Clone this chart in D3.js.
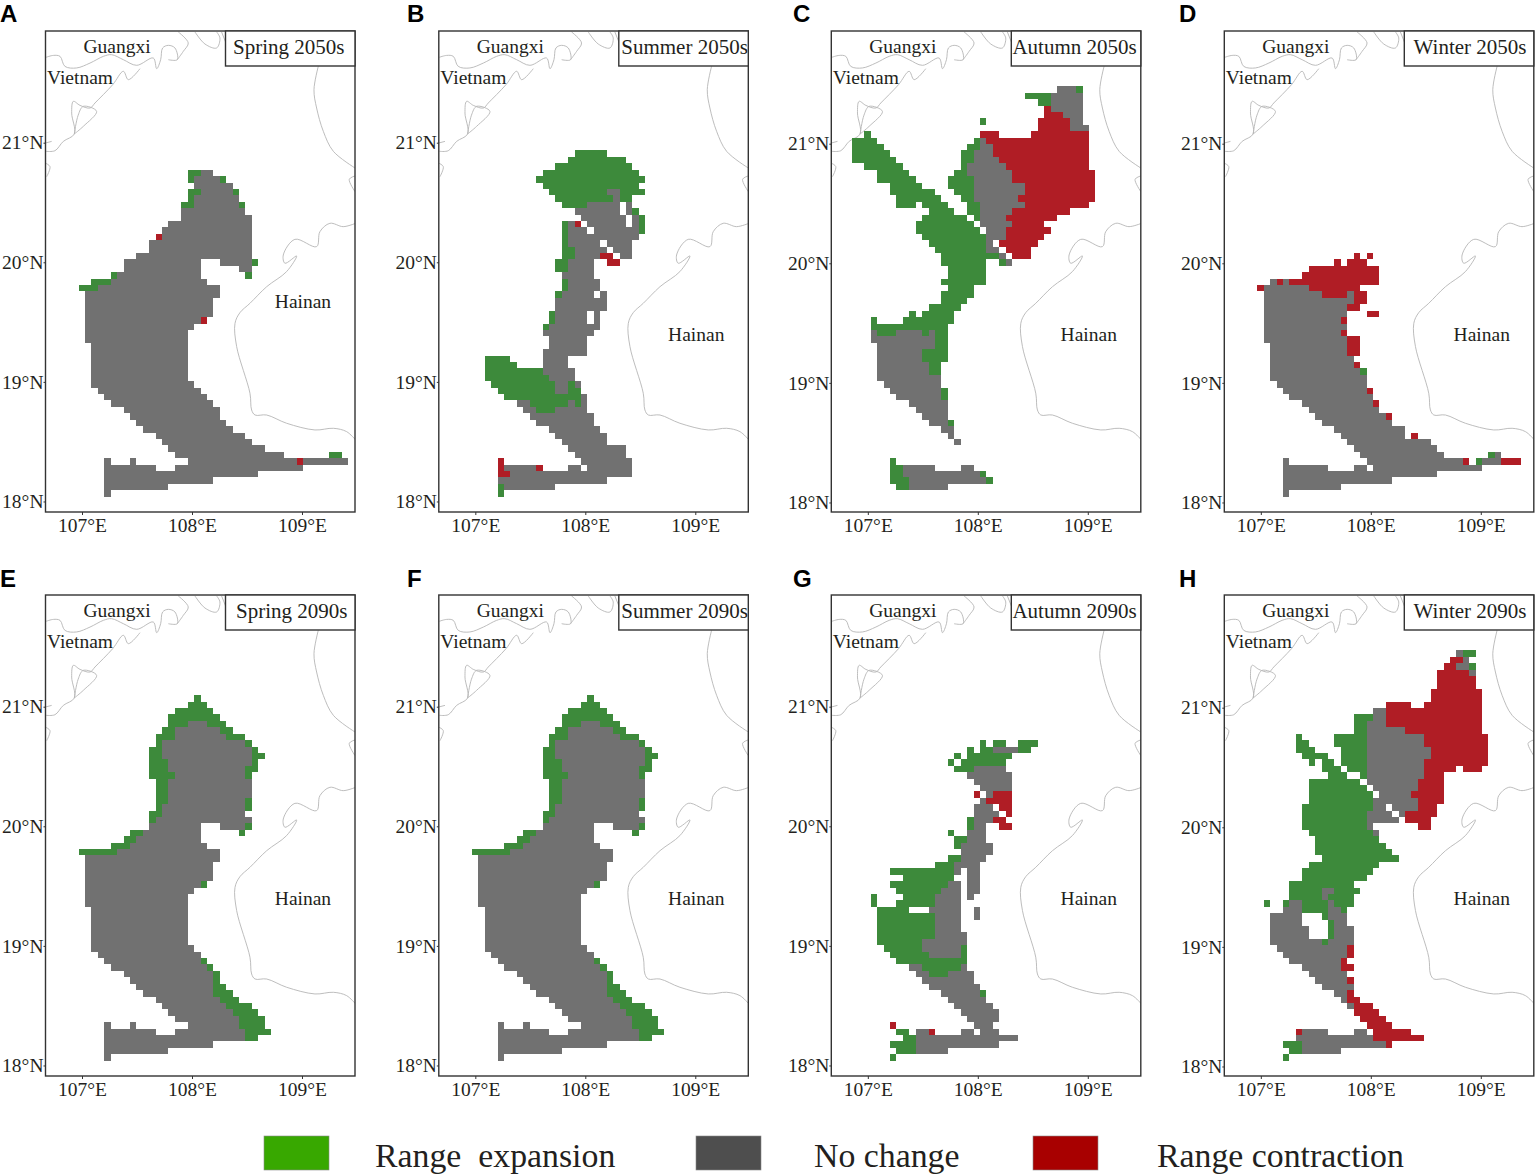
<!DOCTYPE html>
<html>
<head>
<meta charset="utf-8">
<script src="https://cdn.jsdelivr.net/npm/d3@7"></script>
<style>
  html, body { margin: 0; padding: 0; background: #fff; }
  text { font-family: "Liberation Serif", serif; fill: #231f20; }
  .letter { font-family: "Liberation Sans", sans-serif; font-weight: bold; font-size: 24px; fill: #000; }
</style>
</head>
<body>
<div id="chart"></div>
<script>
// each row: [grid row, status, first col, last col, status, first col, last col, ...]
// G = range expansion, N = no change, R = range contraction
const spring2050 = [
  [0,"G",16,17,"N",18,19],[1,"G",16,16,"N",17,20,"G",21,21],[2,"N",17,22],
  [3,"G",16,17,"N",18,22,"G",23,23],[4,"G",16,16,"N",17,23],[5,"G",15,16,"N",17,23,"G",24,24],
  [6,"N",15,24],[7,"N",15,25],[8,"N",13,25],[9,"N",12,25],[10,"R",11,11,"N",12,25],
  [11,"N",10,25],[12,"N",10,25],[13,"N",8,25],[14,"N",6,17,"N",21,25,"G",26,26],
  [15,"N",6,17,"N",24,25],[16,"G",4,4,"N",5,17,"G",25,25],[17,"G",1,3,"N",4,18],
  [18,"G",-1,1,"N",2,20],[19,"N",0,20],[20,"N",0,19],[21,"N",0,19],[22,"N",0,19],
  [23,"N",0,17,"R",18,18],[24,"N",0,16],[25,"N",0,15],[26,"N",0,15],[27,"N",1,15],
  [28,"N",1,15],[29,"N",1,15],[30,"N",1,15],[31,"N",1,15],[32,"N",1,15],[33,"N",1,16],
  [34,"N",2,17],[35,"N",3,18],[36,"N",4,19],[37,"N",6,20],[38,"N",7,20],[39,"N",8,21],
  [40,"N",9,22],[41,"N",11,24],[42,"N",12,25],[43,"N",13,27],[44,"N",14,30,"G",38,39],
  [45,"N",3,3,"N",7,7,"N",16,32,"R",33,33,"N",34,40],[46,"N",3,10,"N",14,33],
  [47,"N",3,26],[48,"N",3,19],[49,"N",3,12],[50,"N",3,3]
];

const summer2050 = [
  [-3,"G",15,19],[-2,"G",14,22],[-1,"G",12,23],[0,"G",10,24],[1,"G",9,25],[2,"G",10,24],
  [3,"G",11,19,"N",20,21,"G",22,25],[4,"G",12,20,"N",21,21,"G",22,23],
  [5,"G",13,16,"N",17,21,"N",23,23],[6,"N",15,21,"N",23,23,"G",24,24],
  [7,"N",16,22,"N",24,24,"G",25,25],[8,"G",13,13,"N",14,14,"R",15,15,"N",17,22,"N",24,24,"G",25,25],
  [9,"G",13,13,"N",14,16,"N",18,24,"G",25,25],[10,"G",13,13,"N",14,24],
  [11,"G",13,13,"N",14,18,"N",20,23],[12,"G",13,14,"N",15,19,"N",21,23],
  [13,"G",13,14,"N",15,18,"R",19,20,"N",22,23],[14,"G",12,13,"N",14,17,"R",20,21],
  [15,"G",12,13,"N",14,17],[16,"N",13,17],[17,"G",13,13,"N",14,18],[18,"G",13,13,"N",14,18],
  [19,"G",12,12,"N",13,17,"N",19,19],[20,"N",12,19],[21,"N",12,19],
  [22,"G",11,11,"N",12,16,"N",18,18],[23,"G",11,11,"N",12,16,"N",18,18],[24,"G",10,10,"N",11,18],
  [25,"N",10,17],[26,"N",11,16],[27,"N",11,16],[28,"N",10,16],[29,"G",1,4,"N",10,13],
  [30,"G",1,5,"N",10,13],[31,"G",1,9,"N",10,14],[32,"G",1,10,"N",11,14],
  [33,"G",2,11,"N",12,13,"G",14,14,"N",15,15],[34,"G",3,11,"N",12,13,"G",14,15],
  [35,"G",4,15,"N",16,16],[36,"N",6,7,"G",8,13,"N",14,14,"G",15,15,"N",16,16],
  [37,"N",7,8,"G",9,11,"N",12,16],[38,"N",8,17],[39,"N",9,17],[40,"N",11,18],[41,"N",12,19],
  [42,"N",13,19],[43,"N",14,22],[44,"N",15,22],[45,"R",3,3,"N",16,23],
  [46,"R",3,3,"N",4,8,"R",9,9,"N",14,15,"N",17,23],[47,"R",3,4,"N",5,23],[48,"N",3,19],
  [49,"G",3,3,"N",4,11],[50,"G",3,3]
];

const autumn2050 = [
  [-13,"N",29,31,"G",32,32],[-12,"G",24,27,"N",28,32],[-11,"G",26,27,"N",28,32],[-10,"R",27,27,"N",28,32],
  [-9,"R",27,29,"N",30,32],[-8,"G",17,17,"R",26,30,"N",31,32],[-7,"R",26,30,"N",31,33],
  [-6,"G",-1,-1,"R",17,19,"R",25,33],[-5,"G",-3,0,"G",16,16,"N",17,17,"R",18,33],
  [-4,"G",-3,1,"G",15,16,"N",17,18,"R",19,33],[-3,"G",-3,2,"G",14,15,"N",16,18,"R",19,33],
  [-2,"G",-3,3,"G",14,15,"N",16,19,"R",20,33],[-1,"G",-1,4,"G",14,14,"N",15,20,"R",21,33],
  [0,"G",1,5,"G",13,14,"N",15,21,"R",22,34],[1,"G",1,6,"G",12,15,"N",16,21,"R",22,34],
  [2,"G",3,7,"G",12,15,"N",16,23,"R",24,34],[3,"G",3,9,"G",13,15,"N",16,23,"R",24,34],
  [4,"G",4,10,"G",14,15,"N",16,22,"R",23,34],[5,"G",4,6,"G",8,11,"G",15,16,"N",17,23,"R",24,33],
  [6,"G",9,12,"G",15,16,"N",17,21,"R",22,30],[7,"G",8,14,"G",16,16,"N",17,20,"R",21,28],
  [8,"G",7,15,"N",17,21,"R",22,26],[9,"G",7,16,"N",18,20,"R",21,27],[10,"G",8,17,"N",18,20,"R",21,26],
  [11,"G",9,17,"N",18,18,"R",20,25],[12,"G",10,17,"N",18,19,"R",21,24],
  [13,"G",11,19,"N",20,20,"R",22,24],[14,"G",11,17,"G",20,20,"N",21,21],[15,"G",12,17],[16,"G",12,17],
  [17,"G",11,17],[18,"G",12,15],[19,"G",11,15],[20,"G",11,14],[21,"G",9,13],
  [22,"G",6,6,"G",8,12],[23,"G",0,0,"G",5,12],[24,"G",0,11],
  [25,"N",0,0,"G",1,3,"N",4,7,"G",8,8,"N",9,9,"G",10,11],[26,"N",0,9,"G",10,11],[27,"N",1,9,"G",10,11],
  [28,"N",1,7,"G",8,11],[29,"N",1,7,"G",8,11],[30,"N",1,8,"G",9,10],[31,"N",1,8,"G",9,10],[32,"N",1,10],
  [33,"N",2,10],[34,"N",3,10,"G",11,11],[35,"N",4,10,"G",11,11],[36,"N",6,11],[37,"N",7,11],[38,"N",8,11],
  [39,"N",9,11,"G",12,12],[40,"N",11,12],[41,"N",12,12],[42,"N",13,13],[45,"G",3,3],
  [46,"G",3,4,"N",5,9,"N",14,15],[47,"G",3,4,"N",5,16,"G",17,17],[48,"G",3,5,"N",6,17,"G",18,18],
  [49,"G",4,5,"N",6,11]
];

const winter2050 = [
  [13,"R",14,14,"R",16,16],[14,"R",11,11,"R",13,15],[15,"R",7,17],[16,"R",6,17],
  [17,"N",1,1,"R",2,2,"N",3,3,"R",4,17],[18,"R",-1,-1,"N",0,6,"R",7,14],
  [19,"N",0,8,"R",9,12,"N",13,13,"R",14,15],[20,"N",0,13,"R",14,15],[21,"N",0,12,"R",13,14],
  [22,"N",0,12,"R",16,17],[23,"N",0,11,"R",12,12],[24,"N",0,12],[25,"N",0,11,"R",12,12],
  [26,"N",0,12,"R",13,14],[27,"N",1,12,"R",13,14],[28,"N",1,12,"R",13,14],[29,"N",1,13],
  [30,"N",1,13,"R",14,14],[31,"N",1,14,"G",15,15],[32,"N",1,15],[33,"N",2,15],
  [34,"N",3,15,"R",16,16],[35,"N",4,16],[36,"N",6,16,"R",17,17],[37,"N",7,17],
  [38,"N",8,18,"R",19,19],[39,"N",9,19],[40,"N",11,21],[41,"N",12,21,"R",23,23],[42,"N",13,25],
  [43,"N",14,26],[44,"N",15,27,"G",35,35,"N",36,36],
  [45,"N",3,3,"N",16,30,"R",31,31,"G",33,33,"N",34,36,"R",37,39],[46,"N",3,9,"N",14,15,"N",17,33],
  [47,"N",3,26],[48,"N",3,19],[49,"N",3,11],[50,"N",3,3]
];

const spring2090 = [
  [-6,"G",17,17],[-5,"G",16,18],[-4,"G",14,19],[-3,"G",13,20],[-2,"G",13,15,"N",16,18,"G",19,21],
  [-1,"G",12,13,"N",14,20,"G",21,22],[0,"G",11,13,"N",14,21,"G",22,24],[1,"G",11,11,"N",12,24,"G",25,25],
  [2,"G",10,11,"N",12,25,"G",26,26],[3,"G",10,11,"N",12,25,"G",26,27],[4,"G",10,12,"N",13,25,"G",26,26],
  [5,"G",10,12,"N",13,24,"G",25,26],[6,"G",10,13,"N",14,24,"G",25,25],[7,"G",11,12,"N",13,25],
  [8,"G",11,12,"N",13,25],[9,"G",11,12,"N",13,25],[10,"G",11,12,"N",13,24,"G",25,25],
  [11,"G",11,11,"N",12,24,"G",25,25],[12,"G",10,11,"N",12,24],[13,"G",10,10,"N",11,25],
  [14,"N",10,17,"N",21,24,"G",25,25],[15,"G",7,8,"N",9,17,"G",24,24],[16,"G",6,7,"N",8,17],
  [17,"G",4,6,"N",7,18],[18,"G",-1,4,"N",5,20],[19,"N",0,20],[20,"N",0,19],[21,"N",0,19],[22,"N",0,19],
  [23,"N",0,17,"G",18,18],[24,"N",0,16],[25,"N",0,15],[26,"N",0,15],[27,"N",1,15],[28,"N",1,15],
  [29,"N",1,15],[30,"N",1,15],[31,"N",1,15],[32,"N",1,15],[33,"N",1,16],[34,"N",2,17],
  [35,"N",3,17,"G",18,18],[36,"N",4,18,"G",19,19],[37,"N",6,19,"G",20,20],[38,"N",7,19,"G",20,20],
  [39,"N",8,19,"G",20,21],[40,"N",9,19,"G",20,22],[41,"N",11,20,"G",21,23],[42,"N",12,21,"G",22,25],
  [43,"N",13,22,"G",23,26],[44,"N",14,23,"G",24,27],[45,"N",3,3,"N",7,7,"N",16,23,"G",24,27],
  [46,"N",3,10,"N",14,24,"G",25,28],[47,"N",3,24,"G",25,26],[48,"N",3,19],[49,"N",3,12],[50,"N",3,3]
];

const summer2090 = spring2090;

const autumn2090 = [
  [1,"G",17,17,"G",19,20,"G",23,25],[2,"G",15,15,"G",17,18,"N",19,22,"G",23,24],
  [3,"G",13,13,"G",15,21],[4,"G",12,12,"G",14,20],[5,"G",13,15,"N",16,20],[6,"N",15,21],[7,"N",16,21],
  [8,"N",17,21],[9,"R",16,16,"N",18,18,"R",19,21],[10,"N",17,17,"R",18,21],[11,"N",16,18,"R",20,21],
  [12,"N",16,19,"R",21,21],[13,"G",15,15,"N",16,18,"R",19,20],[14,"G",15,15,"N",16,17,"R",20,21],
  [15,"G",12,12,"N",15,17],[16,"G",13,14,"N",15,17],[17,"G",13,13,"N",14,18],[18,"N",14,18],
  [19,"G",12,13,"N",14,17],[20,"G",10,12,"N",13,16],[21,"G",3,12,"N",13,13,"N",15,16],
  [22,"G",5,12,"N",15,16],[23,"G",3,11,"N",12,13,"N",15,16],[24,"G",4,10,"N",11,13,"N",15,16],
  [25,"G",0,0,"G",5,9,"N",10,13,"N",15,15],[26,"G",0,0,"G",4,9,"N",10,13],
  [27,"G",1,5,"N",9,13,"N",16,16],[28,"G",1,9,"N",10,13,"N",16,16],[29,"G",1,9,"N",10,13],
  [30,"G",1,9,"N",10,13],[31,"G",1,9,"N",10,14],[32,"G",1,7,"N",8,14],[33,"G",2,7,"N",8,13,"G",14,14],
  [34,"G",3,8,"N",9,13,"G",14,14],[35,"G",4,14],[36,"N",6,7,"G",8,13,"N",14,14],
  [37,"N",7,8,"G",9,11,"N",12,15],[38,"N",8,15],[39,"N",9,16],[40,"N",11,16,"G",17,17],[41,"N",12,17],
  [42,"N",13,18],[43,"N",14,19],[44,"N",15,19],[45,"R",3,3,"N",16,18],
  [46,"G",4,5,"N",7,8,"R",9,9,"N",14,15,"N",17,19],[47,"G",5,6,"N",7,22],[48,"G",3,6,"N",7,19],
  [49,"G",4,6,"N",7,11],[50,"G",3,3]
];

const winter2090 = [
  [-13,"N",30,30,"G",31,32],[-12,"R",29,30,"N",31,31],[-11,"R",28,29,"N",30,31,"G",32,32],
  [-10,"R",27,31,"N",32,32],[-9,"R",27,32],[-8,"R",27,32],[-7,"R",26,33],[-6,"R",26,33],
  [-5,"R",19,22,"R",25,33],[-4,"N",17,18,"R",19,33],[-3,"G",14,16,"N",17,18,"R",19,33],
  [-2,"G",14,15,"N",16,18,"R",19,33],[-1,"G",14,15,"N",16,21,"R",22,33],
  [0,"G",5,5,"G",11,15,"N",16,24,"R",25,34],[1,"G",5,6,"G",11,15,"N",16,24,"R",25,34],
  [2,"G",5,7,"G",12,15,"N",16,25,"R",26,34],[3,"G",6,9,"G",12,15,"N",16,25,"R",26,34],
  [4,"G",7,7,"G",9,10,"G",12,15,"N",16,24,"R",25,34],[5,"G",9,11,"G",13,15,"N",16,24,"R",25,29,"R",31,33],
  [6,"G",10,12,"G",15,15,"N",16,24,"R",25,27],[7,"G",7,14,"N",16,23,"R",24,27],[8,"G",7,15,"N",17,23,"R",24,27],
  [9,"G",7,16,"N",18,22,"R",23,27],[10,"G",7,16,"N",17,23,"R",24,27],
  [11,"G",6,16,"N",17,18,"N",20,23,"R",24,26],[12,"G",6,15,"N",16,19,"N",21,21,"R",22,26],
  [13,"G",6,15,"N",16,20,"R",22,25],[14,"G",6,15,"N",16,16,"R",24,25],[15,"G",7,16,"N",17,17],
  [16,"G",8,17],[17,"G",8,18],[18,"G",8,19],[19,"G",9,20],[20,"G",7,17],[21,"G",6,16],[22,"G",6,15],
  [23,"G",4,13],[24,"G",4,8,"N",9,10,"G",11,14],[25,"G",4,8,"N",9,9,"G",10,13],
  [26,"G",0,0,"G",3,3,"N",4,5,"G",6,9,"N",10,10,"G",11,13],[27,"N",3,5,"G",6,9,"N",10,11,"G",12,12],
  [28,"N",1,5,"G",9,9,"N",10,12],[29,"N",1,5,"G",10,10,"N",11,12],[30,"N",1,6,"G",10,10,"N",11,13],
  [31,"N",1,6,"G",10,10,"N",11,13],[32,"N",1,8,"G",9,9,"N",10,13],[33,"N",2,12,"R",13,13],
  [34,"N",3,12,"R",13,13],[35,"N",4,11,"R",12,12],[36,"N",6,11,"R",12,13],[37,"N",7,12],
  [38,"N",8,12,"R",13,13],[39,"N",9,13],[40,"N",11,12,"R",13,13],[41,"N",12,12,"R",13,14],
  [42,"N",13,13,"R",14,16],[43,"R",14,17],[44,"R",15,18],[45,"R",16,19],
  [46,"R",5,5,"N",6,9,"N",14,15,"R",17,22],[47,"N",5,16,"R",17,24],[48,"G",3,5,"N",6,18,"R",19,19],
  [49,"G",4,5,"N",6,11],[50,"G",3,3]
];

const panelCells = [spring2050, summer2050, autumn2050, winter2050, spring2090, summer2090, autumn2090, winter2090];
const panelLetters = ["A", "B", "C", "D", "E", "F", "G", "H"];
const panelTitles = ["Spring 2050s", "Summer 2050s", "Autumn 2050s", "Winter 2050s",
                     "Spring 2090s", "Summer 2090s", "Autumn 2090s", "Winter 2090s"];
const lonTicks = [107, 108, 109];
const latTicks = [18, 19, 20, 21];
const legendLabels = ["Range  expansion", "No change", "Range contraction"];

// coastlines, [lon, lat]
const coastGuangxi = [[106.673,21.714],[106.739,21.730],[106.800,21.722],[106.845,21.638],[106.951,21.625],[107.073,21.666],[107.194,21.722],[107.269,21.736],[107.376,21.694],[107.497,21.647],[107.648,21.708],[107.679,21.619],[107.715,21.694],[107.733,21.792],[107.785,21.814],[107.845,21.792],[107.866,21.694],[107.785,21.694]];
const coastVietnam = [[107.527,21.619],[107.421,21.527],[107.376,21.597],[107.279,21.485],[107.118,21.332],[107.073,21.290],[106.982,21.312],[106.921,21.346],[106.906,21.248],[106.930,21.073],[106.830,21.011],[106.754,20.933],[106.673,20.928]];
const coastIsland = [[106.930,21.073],[106.965,21.230],[107.012,21.304],[107.133,21.262],[107.012,21.137],[106.930,21.073]];
const coastBayA = [[107.875,21.926],[107.966,21.834],[107.921,21.764],[107.866,21.694]];
const coastBayB = [[108.027,21.926],[108.118,21.825],[108.224,21.792],[108.254,21.875],[108.224,21.926]];
const coastBayC = [[108.269,21.926],[108.315,21.820]];
const coastLeizhou = [[109.148,21.638],[109.109,21.443],[109.133,21.290],[109.194,21.095],[109.285,20.928],[109.481,20.789]];
const coastLeizhouTip = [[109.482,20.722],[109.430,20.694],[109.482,20.591]];
const coastWestTip = [[106.670,20.828],[106.709,20.800],[106.679,20.716]];
const coastMark = [[106.67,20.998],[106.724,21.011]];
const coastHainan = [[109.488,20.326],[109.375,20.298],[109.254,20.326],[109.163,20.256],[109.133,20.131],[108.936,20.192],[108.830,20.061],[108.845,19.992],[108.951,20.053],[108.860,19.922],[108.679,19.796],[108.527,19.657],[108.436,19.579],[108.391,19.490],[108.406,19.295],[108.527,18.905],[108.542,18.765],[108.573,18.723],[108.679,18.723],[108.860,18.654],[109.118,18.598],[109.285,18.612],[109.406,18.584],[109.488,18.514]];
const coasts = [coastGuangxi, coastVietnam, coastIsland, coastBayA, coastBayB, coastBayC, coastLeizhou, coastLeizhouTip, coastWestTip, coastMark, coastHainan];

// the modelled grid
const gridLon0 = 107.0273, gridLonStep = 0.05836;
const gridLat0 = 20.7742, gridLatStep = 0.0536;

const cellColor = { G: "#3d8a3b", N: "#717171", R: "#b01d25" };
const legendColors = ["#38a800", "#4e4e4e", "#a80000"];

const panelLefts = [45.5, 438.8, 831.3, 1224.3];
const panelTops = [31, 595];
const panelW = 309.5, panelH = 481;
const titleDx = [-1.5, 1, -1.5, 1, 1.5, 1, -1.5, 1];

const svg = d3.select("#chart").append("svg")
  .attr("width", 1536)
  .attr("height", 1176)
  .style("display", "block");

const x = d3.scaleLinear().domain([106.668, 109.482]).range([0, panelW]);
const y = d3.scaleLinear().domain([21.934, 17.912]).range([0, panelH]);
const line = d3.line().curve(d3.curveCatmullRom.alpha(0.5)).x((d) => x(d[0])).y((d) => y(d[1]));

svg.append("defs").append("clipPath").attr("id", "panel-clip")
  .append("rect").attr("width", panelW).attr("height", panelH);

// turn [row, s, a, b, s, a, b...] into one object per run
function toRuns(rows) {
  const runs = [];
  rows.forEach((row) => {
    for (let i = 1; i < row.length; i += 3) {
      runs.push({ row: row[0], status: row[i], from: row[i + 1], to: row[i + 2] });
    }
  });
  return runs;
}

panelCells.forEach((cells, i) => {
  const col = i % 4, rowNo = Math.floor(i / 4);
  const g = svg.append("g").attr("transform", `translate(${panelLefts[col]},${panelTops[rowNo]})`);

  const map = g.append("g").attr("clip-path", "url(#panel-clip)");
  map.selectAll("path").data(coasts).enter().append("path")
    .attr("d", line)
    .attr("fill", "none")
    .attr("stroke", "#b5b5b5")
    .attr("stroke-width", 0.9);

  map.selectAll("rect").data(toRuns(cells)).enter().append("rect")
    .attr("x", (d) => x(gridLon0 + d.from * gridLonStep))
    .attr("width", (d) => x(gridLon0 + (d.to + 1) * gridLonStep) - x(gridLon0 + d.from * gridLonStep))
    .attr("y", (d) => y(gridLat0 - d.row * gridLatStep))
    .attr("height", (d) => y(gridLat0 - (d.row + 1) * gridLatStep) - y(gridLat0 - d.row * gridLatStep))
    .attr("fill", (d) => cellColor[d.status])
    .attr("shape-rendering", "crispEdges");

  g.append("rect")
    .attr("width", panelW).attr("height", panelH)
    .attr("fill", "none").attr("stroke", "#333").attr("stroke-width", 1.4);

  const xAxis = d3.axisBottom(x).tickValues(lonTicks).tickSize(3).tickPadding(3).tickFormat((d) => d + "°E");
  const yAxis = d3.axisLeft(y).tickValues(latTicks).tickSize(2).tickPadding(0).tickFormat((d) => d + "°N");
  const ax = g.append("g").attr("transform", `translate(0,${panelH})`).call(xAxis);
  // panels C, D and H have their latitude labels a pixel lower
  const ay = g.append("g").attr("transform", `translate(0,${[2, 3, 7].includes(i) ? 1 : 0})`).call(yAxis);
  [ax, ay].forEach((a) => {
    a.select(".domain").remove();
    a.selectAll("line").attr("stroke", "#333");
    a.selectAll("text").style("font-size", "19.5px").style("font-family", "Liberation Serif").attr("fill", "#231f20");
  });

  // place names
  g.append("text").attr("x", x(107.318)).attr("y", y(21.75)).attr("text-anchor", "middle")
    .style("font-size", "19.5px").text("Guangxi");
  g.append("text").attr("x", x(106.682)).attr("y", y(21.491))
    .style("font-size", "19.5px").text("Vietnam");
  g.append("text").attr("x", x(109.009)).attr("y", y(i === 0 ? 19.618 : 19.342)).attr("text-anchor", "middle")
    .style("font-size", "19.5px").text("Hainan");

  // season box
  const boxW = 129.5, boxH = 35;
  g.append("rect").attr("x", panelW - boxW).attr("width", boxW).attr("height", boxH)
    .attr("fill", "#fff").attr("stroke", "#333").attr("stroke-width", 1.4);
  g.append("text").attr("x", panelW - boxW / 2 + titleDx[i]).attr("y", 23).attr("text-anchor", "middle")
    .style("font-size", "21px").text(panelTitles[i]);

  svg.append("text").attr("class", "letter")
    .attr("x", [0, 407, 793, 1179][col]).attr("y", [22, 587][rowNo]).text(panelLetters[i]);
});

// legend
const legendSwatchX = [264, 696, 1033];
const legendTextX = [375, 814, 1157];
legendLabels.forEach((label, i) => {
  svg.append("rect").attr("x", legendSwatchX[i]).attr("y", 1136).attr("width", 65).attr("height", 34)
    .attr("fill", legendColors[i]).attr("stroke", "#8a8a8a").attr("stroke-width", 0.6);
  svg.append("text").attr("x", legendTextX[i]).attr("y", 1167)
    .style("font-size", "33.8px").style("white-space", "pre").text(label);
});
</script>
</body>
</html>
